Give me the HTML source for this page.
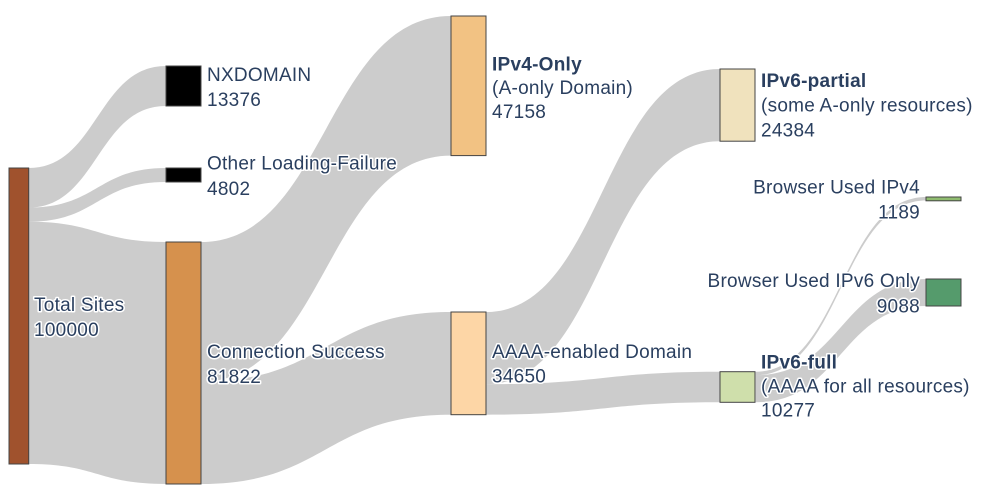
<!DOCTYPE html>
<html><head><meta charset="utf-8"><style>
html,body{margin:0;padding:0;background:#fff;}
svg{display:block;}
text{font-family:"Liberation Sans",Arial,sans-serif;font-size:19px;letter-spacing:0.25px;fill:#2a3f5f;paint-order:stroke;stroke:#fff;stroke-width:3px;stroke-linejoin:round;}
.b{font-weight:bold;}
.e{text-anchor:end;}
</style></head><body>
<svg width="982" height="499" viewBox="0 0 982 499" xmlns="http://www.w3.org/2000/svg">
<g fill="rgba(0,0,0,0.2)">
<path d="M28.7,168 C97.35,168 97.35,66 166,66 L166,106 C97.35,106 97.35,207.6 28.7,207.6 Z"/>
<path d="M28.7,207.6 C97.35,207.6 97.35,168 166,168 L166,182 C97.35,182 97.35,221.8 28.7,221.8 Z"/>
<path d="M28.7,221.8 C97.35,221.8 97.35,242 166,242 L166,484 C97.35,484 97.35,464 28.7,464 Z"/>
<path d="M201,242 C326,242 326,16 451,16 L451,155.6 C326,155.6 326,381.6 201,381.6 Z"/>
<path d="M201,381.6 C326,381.6 326,312 451,312 L451,414.7 C326,414.7 326,484 201,484 Z"/>
<path d="M486,312 C603,312 603,69 720,69 L720,141.2 C603,141.2 603,384.2 486,384.2 Z"/>
<path d="M486,384.2 C603,384.2 603,371.7 720,371.7 L720,402.3 C603,402.3 603,414.7 486,414.7 Z"/>
<path d="M755.7,371.7 C841,371.7 841,197 926,197 L926,200.5 C841,200.5 841,375.2 755.7,375.2 Z"/>
<path d="M755.7,375.2 C841,375.2 841,279 926,279 L926,306 C841,306 841,402.3 755.7,402.3 Z"/>
</g>
<g stroke="#444" stroke-width="1">
<rect x="9" y="168" width="19.7" height="296" fill="#a0522d"/>
<rect x="166" y="66" width="35" height="40" fill="#000"/>
<rect x="166" y="168" width="35" height="14" fill="#000"/>
<rect x="166" y="242" width="35" height="242" fill="#d6914d"/>
<rect x="451" y="16" width="35" height="139.6" fill="#f2c283"/>
<rect x="451" y="312" width="35" height="102.7" fill="#fdd6a6"/>
<rect x="720" y="69" width="35" height="72.2" fill="#f0e2bd"/>
<rect x="720" y="371.7" width="35" height="30.6" fill="#cfdfab"/>
<rect x="926" y="197" width="35" height="3.8" fill="#8fbc6f"/>
<rect x="926" y="279" width="35" height="27" fill="#559b6c"/>
</g>
<text x="34" y="311">Total Sites</text>
<text x="34" y="336">100000</text>
<text x="207" y="81">NXDOMAIN</text>
<text x="207" y="106">13376</text>
<text x="207" y="169.5">Other Loading-Failure</text>
<text x="207" y="195">4802</text>
<text x="207" y="358">Connection Success</text>
<text x="207" y="383">81822</text>
<text x="492" y="70.5" class="b">IPv4-Only</text>
<text x="492" y="94">(A-only Domain)</text>
<text x="492" y="118">47158</text>
<text x="492" y="358">AAAA-enabled Domain</text>
<text x="492" y="382.5">34650</text>
<text x="761" y="87" class="b">IPv6-partial</text>
<text x="761" y="111.7">(some A-only resources)</text>
<text x="761" y="136.7">24384</text>
<text x="920" y="193.3" class="e">Browser Used IPv4</text>
<text x="920" y="218.3" class="e">1189</text>
<text x="920" y="287" class="e">Browser Used IPv6 Only</text>
<text x="920" y="312.3" class="e">9088</text>
<text x="761" y="368.3" class="b">IPv6-full</text>
<text x="761" y="392.3">(AAAA for all resources)</text>
<text x="761" y="416.7">10277</text>
</svg>
</body></html>
